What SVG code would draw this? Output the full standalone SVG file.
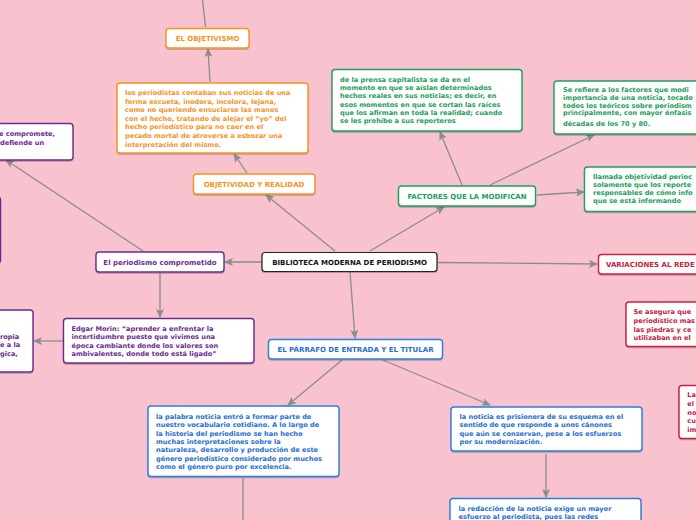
<svg xmlns="http://www.w3.org/2000/svg" width="696" height="520" viewBox="0 0 696 520">
<defs>
<marker id="ah" markerWidth="9" markerHeight="8" refX="8" refY="4" orient="auto" markerUnits="userSpaceOnUse"><path d="M0,0 L9,4 L0,8 L2,4 z" fill="#8c8c8c"/></marker>
<filter id="sh" x="-5%" y="-10%" width="110%" height="130%"><feDropShadow dx="0" dy="1" stdDeviation="0.6" flood-color="#000" flood-opacity="0.25"/></filter>
</defs>
<style>
text{font-family:"DejaVu Sans","Verdana",sans-serif;font-weight:bold;font-size:6.6px}
.h{font-size:7px}
.box{fill:#fff;stroke-width:1.4;filter:url(#sh)}
.c{fill:none;stroke:#8c8c8c;stroke-width:1.3}
.or .box{stroke:#f7941d}.or text{fill:#f7941d}
.gr .box{stroke:#1ca05b}.gr text{fill:#1ca05b}
.pu .box{stroke:#6a2c91}.pu text{fill:#6a2c91}
.bl .box{stroke:#2a7de1}.bl text{fill:#1f6fd6}
.re .box{stroke:#c8203e}.re text{fill:#c8203e}
</style>
<rect width="696" height="520" fill="#f8c3cf"/>
<g id="connectors">
<path class="c" d="M205.5,27 L202.5,0"/>
<path class="c" d="M210,82 L208,49" marker-end="url(#ah)"/>
<path class="c" d="M247,173 L234,154" marker-end="url(#ah)"/>
<path class="c" d="M335,251 L266,195" marker-end="url(#ah)"/>
<path class="c" d="M370,251 L444,207" marker-end="url(#ah)"/>
<path class="c" d="M462,185 L440,132" marker-end="url(#ah)"/>
<path class="c" d="M490,185 L594,135" marker-end="url(#ah)"/>
<path class="c" d="M537,195 L584,192" marker-end="url(#ah)"/>
<path class="c" d="M262,262 L225,262" marker-end="url(#ah)"/>
<path class="c" d="M143,251 L6,160" marker-end="url(#ah)"/>
<path class="c" d="M160,273 L160,317" marker-end="url(#ah)"/>
<path class="c" d="M63,341 L34,341" marker-end="url(#ah)"/>
<path class="c" d="M350,272 L355,338" marker-end="url(#ah)"/>
<path class="c" d="M342,360 L288,405" marker-end="url(#ah)"/>
<path class="c" d="M383,360 L490,405" marker-end="url(#ah)"/>
<path class="c" d="M546,454 L546,497" marker-end="url(#ah)"/>
<path class="c" d="M243,478 L243,520"/>
<path class="c" d="M438,262.5 L597,264" marker-end="url(#ah)"/>
</g>
<g id="root">
<rect x="262" y="252.5" width="175" height="19" rx="3" fill="#fff" stroke="#222" stroke-width="1.2" filter="url(#sh)"/>
<text class="h" x="349.5" y="264.6" text-anchor="middle" fill="#111">BIBLIOTECA MODERNA DE PERIODISMO</text>
</g>
<g id="el-objetivismo" class="or">
<rect class="box" x="166" y="28.5" width="83" height="19.5" rx="3"/>
<text class="h" x="207.5" y="40.6" text-anchor="middle">EL OBJETIVISMO</text>
</g>
<g id="periodistas" class="or">
<rect class="box" x="117" y="83" width="191" height="70" rx="3"/>
<text x="125" y="95">los periodistas contaban sus noticias de una</text>
<text x="125" y="103.6">forma escueta, inodora, incolora, lejana,</text>
<text x="125" y="112.2">como no queriendo ensuciarse las manos</text>
<text x="125" y="120.8">con el hecho, tratando de alejar el “yo” del</text>
<text x="125" y="129.4">hecho periodístico para no caer en el</text>
<text x="125" y="138">pecado mortal de atreverse a esbozar una</text>
<text x="125" y="146.6">interpretación del mismo.</text>
</g>
<g id="objetividad" class="or">
<rect class="box" x="193.5" y="174" width="121.5" height="20" rx="3"/>
<text class="h" x="254" y="186.5" text-anchor="middle">OBJETIVIDAD Y REALIDAD</text>
</g>
<g id="prensa" class="gr">
<rect class="box" x="332" y="69.5" width="190" height="61.5" rx="3"/>
<text x="340" y="81.6">de la prensa capitalista se da en el</text>
<text x="340" y="90">momento en que se aíslan determinados</text>
<text x="340" y="98.3">hechos reales en sus noticias; es decir, en</text>
<text x="340" y="106.6">esos momentos en que se cortan las raíces</text>
<text x="340" y="115">que los afirman en toda la realidad; cuando</text>
<text x="340" y="123.3">se les prohíbe a sus reporteros</text>
</g>
<g id="factores" class="gr">
<rect class="box" x="398.5" y="186" width="137" height="20" rx="3"/>
<text class="h" x="467" y="198.5" text-anchor="middle">FACTORES QUE LA MODIFICAN</text>
</g>
<g id="se-refiere" class="gr">
<rect class="box" x="554" y="81" width="160" height="53" rx="3"/>
<text x="563" y="92.3">Se refiere a los factores que modi</text>
<text x="563" y="100">importancia de una noticia, tocado</text>
<text x="563" y="107.7">todos los teóricos sobre periodism</text>
<text x="563" y="115.4">principalmente, con mayor énfasis</text>
<text x="563" y="126">décadas de los 70 y 80.</text>
</g>
<g id="llamada" class="gr">
<rect class="box" x="584.5" y="167" width="130" height="44.5" rx="3"/>
<text x="593" y="179">llamada objetividad perioc</text>
<text x="593" y="186.7">solamente que los reporte</text>
<text x="593" y="195">responsables de cómo info</text>
<text x="593" y="203.3">que se está informando</text>
</g>
<g id="comprometido" class="pu">
<rect class="box" x="96" y="252" width="128" height="20" rx="3"/>
<text class="h" x="160" y="264.5" text-anchor="middle">El periodismo comprometido</text>
</g>
<g id="compromete" class="pu">
<rect class="box" x="-60" y="123.5" width="133" height="36.5" rx="3"/>
<text x="-1" y="136.3">e compromete,</text>
<text x="0" y="145">defiende un</text>
</g>
<g id="left-box" class="pu">
<rect class="box" x="-100" y="197" width="100.5" height="66" rx="3"/>
</g>
<g id="propia" class="pu">
<rect class="box" x="-60" y="310" width="93" height="62" rx="3"/>
<text x="0" y="339">ropia</text>
<text x="0" y="347.3">e a la</text>
<text x="0" y="355.6">gica,</text>
</g>
<g id="morin" class="pu">
<rect class="box" x="63.5" y="318.5" width="190.5" height="44.5" rx="3"/>
<text x="71.5" y="331">Edgar Morin: “aprender a enfrentar la</text>
<text x="71.5" y="339">incertidumbre puesto que vivimos una</text>
<text x="71.5" y="347.6">época cambiante donde los valores son</text>
<text x="71.5" y="356.3">ambivalentes, donde todo está ligado”</text>
</g>
<g id="parrafo" class="bl">
<rect class="box" x="268.5" y="339.5" width="174" height="19.5" rx="3"/>
<text class="h" x="355.5" y="351.8" text-anchor="middle">EL PÁRRAFO DE ENTRADA Y EL TITULAR</text>
</g>
<g id="palabra" class="bl">
<rect class="box" x="148" y="406" width="191" height="70.5" rx="3"/>
<text x="156" y="419">la palabra noticia entró a formar parte de</text>
<text x="156" y="427.3">nuestro vocabulario cotidiano. A lo largo de</text>
<text x="156" y="435.6">la historia del periodismo se han hecho</text>
<text x="156" y="444">muchas interpretaciones sobre la</text>
<text x="156" y="452.3">naturaleza, desarrollo y producción de este</text>
<text x="156" y="460.6">género periodístico considerado por muchos</text>
<text x="156" y="469">como el género puro por excelencia.</text>
</g>
<g id="prisionera" class="bl">
<rect class="box" x="451" y="407" width="191" height="44" rx="3"/>
<text x="459.5" y="419">la noticia es prisionera de su esquema en el</text>
<text x="459.5" y="427.3">sentido de que responde a unos cánones</text>
<text x="459.5" y="436">que aún se conservan, pese a los esfuerzos</text>
<text x="459.5" y="444.3">por su modernización.</text>
</g>
<g id="redaccion" class="bl">
<rect class="box" x="450" y="498.5" width="191" height="40" rx="3"/>
<text x="458.5" y="510.6">la redacción de la noticia exige un mayor</text>
<text x="458.5" y="519">esfuerzo al periodista, pues las redes</text>
</g>
<g id="variaciones" class="re">
<rect class="box" x="598.5" y="254.5" width="130" height="19.5" rx="3"/>
<text class="h" x="606" y="266.7">VARIACIONES AL REDE</text>
</g>
<g id="asegura" class="re">
<rect class="box" x="626" y="302" width="100" height="44.5" rx="3"/>
<text x="633.5" y="314">Se asegura que</text>
<text x="633.5" y="322.6">periodístico mas</text>
<text x="633.5" y="331.6">las piedras y ce</text>
<text x="633.5" y="340.3">utilizaban en el</text>
</g>
<g id="la-box" class="re">
<rect class="box" x="679" y="385.5" width="60" height="53" rx="3"/>
<text x="687.3" y="397.3">La</text>
<text x="687.3" y="406">el</text>
<text x="687.3" y="415">no</text>
<text x="687.3" y="423.3">cu</text>
<text x="687.3" y="432.3">im</text>
</g>
</svg>
